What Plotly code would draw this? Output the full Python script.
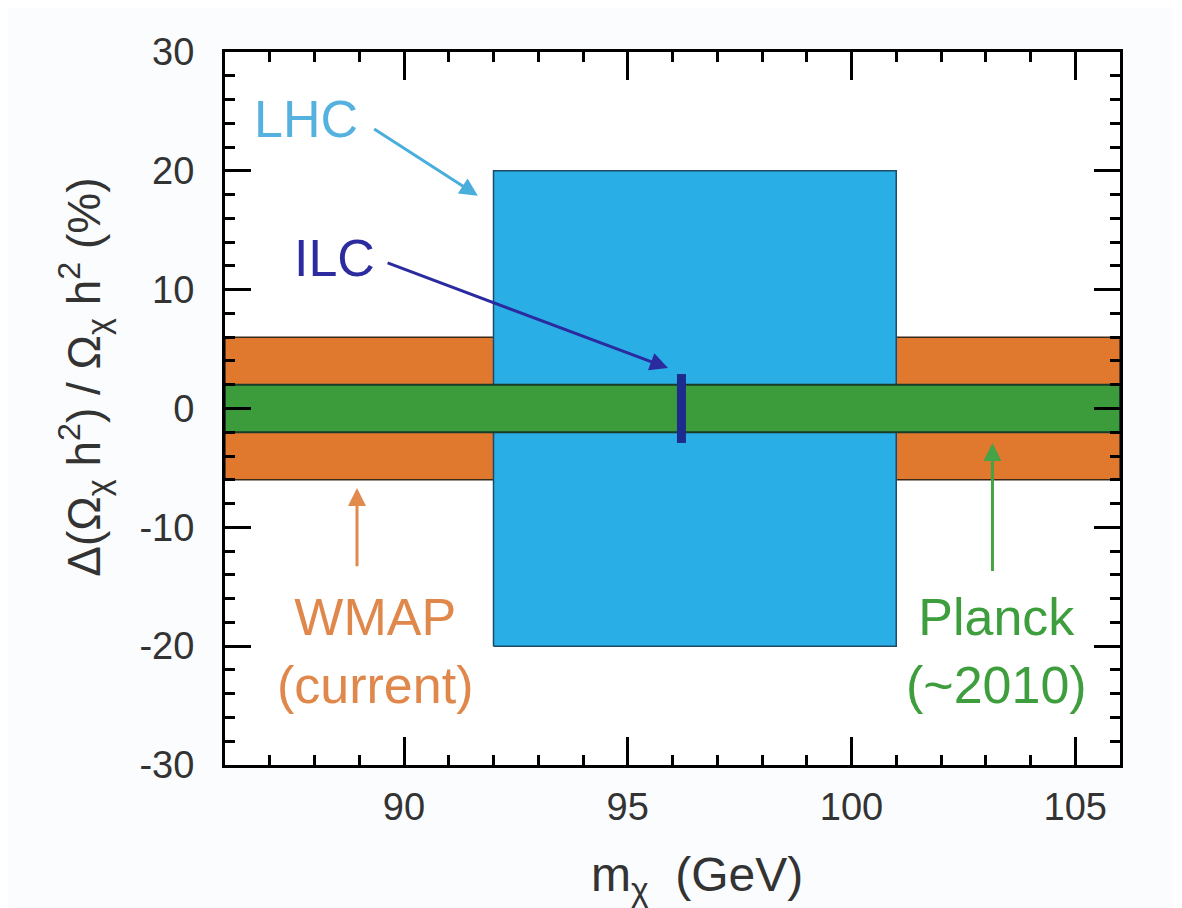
import plotly.graph_objects as go

# ---- data ----
x_range = [86, 106]
y_range = [-30, 30]
wmap_y = [-6, 6]          # WMAP (current) band
planck_y = [-2, 2]        # Planck (~2010) band
lhc_x = [92, 101]         # LHC box mass range
lhc_y = [-20, 20]         # LHC box relic density range
ilc_x = 96.2              # ILC mass
ilc_y = [-2.9, 2.9]       # ILC relic density range
x_ticks = [90, 95, 100, 105]
x_ticktext = ["90", "95", "100", "105"]
y_ticks = [-30, -20, -10, 0, 10, 20, 30]
y_ticktext = ["-30", "-20", "-10", "0", "10", "20", "30"]

ORANGE = "#E0782E"
GREEN = "#3C9B3A"
BLUE = "#2AAEE6"
NAVY = "#1E2B8E"


def rect(xs, ys):
    return [xs[0], xs[1], xs[1], xs[0], xs[0]], [ys[0], ys[0], ys[1], ys[1], ys[0]]


fig = go.Figure()

bx, by = rect(x_range, wmap_y)
fig.add_trace(go.Scatter(x=bx, y=by, fill="toself", fillcolor=ORANGE, mode="lines",
                         line=dict(color="#3a2a1a", width=1.5), hoverinfo="skip", showlegend=False))
bx, by = rect(lhc_x, lhc_y)
fig.add_trace(go.Scatter(x=bx, y=by, fill="toself", fillcolor=BLUE, mode="lines",
                         line=dict(color="#1d4a66", width=1.5), hoverinfo="skip", showlegend=False))
bx, by = rect(x_range, planck_y)
fig.add_trace(go.Scatter(x=bx, y=by, fill="toself", fillcolor=GREEN, mode="lines",
                         line=dict(color="#1a3a2a", width=2), hoverinfo="skip", showlegend=False))
fig.add_trace(go.Scatter(x=[ilc_x, ilc_x], y=ilc_y, mode="lines",
                         line=dict(color=NAVY, width=9), hoverinfo="skip", showlegend=False))

FONT = "Liberation Sans, Arial, sans-serif"
TXT = "#333333"

# arrows
arrows = [
    (91.65, 17.9, 89.3, 23.6, "#4AAEDD"),
    (95.9, 3.4, 89.6, 12.3, "#2B2BA0"),
    (88.95, -6.7, 88.95, -13.4, "#E08A4E"),
    (103.15, -2.9, 103.15, -13.8, "#46A246"),
]
for hx, hy, tx, ty, c in arrows:
    fig.add_annotation(x=hx, y=hy, ax=tx, ay=ty, xref="x", yref="y", axref="x", ayref="y",
                       text="", showarrow=True, arrowhead=2, arrowsize=1.2, arrowwidth=3,
                       arrowcolor=c)

labels = [
    (87.8, 24.4, "LHC", "#55B2DE"),
    (88.45, 12.7, "ILC", "#2C2CA0"),
    (89.35, -20.4, "WMAP<br>(current)", "#E0874C"),
    (103.25, -20.4, "Planck<br>(~2010)", "#3E9E3E"),
]
for x, y, t, c in labels:
    fig.add_annotation(x=x, y=y, xref="x", yref="y", text=t, showarrow=False,
                       font=dict(family=FONT, size=52, color=c), align="center")

# axis titles as annotations (positioned as in the reference)
fig.add_annotation(x=0.527, y=-0.158, xref="paper", yref="paper",
                   xanchor="center", yanchor="middle",
                   text="m<sub>χ</sub>  (GeV)", showarrow=False,
                   font=dict(family=FONT, size=48, color=TXT))
fig.add_annotation(x=-0.158, y=0.544, xref="paper", yref="paper", textangle=-90,
                   xanchor="center", yanchor="middle",
                   text="Δ(Ω<sub>χ</sub> h<sup>2</sup>) / Ω<sub>χ</sub> h<sup>2</sup> (%)",
                   showarrow=False, font=dict(family=FONT, size=46, color=TXT))

axis_common = dict(
    showgrid=False, zeroline=False, showline=True, linecolor="black", linewidth=3,
    mirror="ticks", ticks="inside", tickcolor="black", tickwidth=3,
    tickfont=dict(family=FONT, size=38, color=TXT),
)

fig.update_xaxes(range=x_range, tickvals=x_ticks, ticktext=x_ticktext, ticklen=28,
                 ticklabelstandoff=6,
                 minor=dict(dtick=1, ticks="inside", ticklen=10, tickwidth=3, tickcolor="black"),
                 **axis_common)
fig.update_yaxes(range=y_range, tickvals=y_ticks, ticktext=y_ticktext, ticklen=26,
                 ticklabelstandoff=20,
                 minor=dict(dtick=2, ticks="inside", ticklen=10, tickwidth=3, tickcolor="black"),
                 **axis_common)

# the page adds an 8px body margin, so the figure is 8px smaller and shifted
fig.update_layout(
    width=1174, height=900,
    margin=dict(l=217, r=62, t=44, b=143),
    paper_bgcolor="#FBFCFD", plot_bgcolor="white",
    showlegend=False,
)

fig.write_html("out.html")
